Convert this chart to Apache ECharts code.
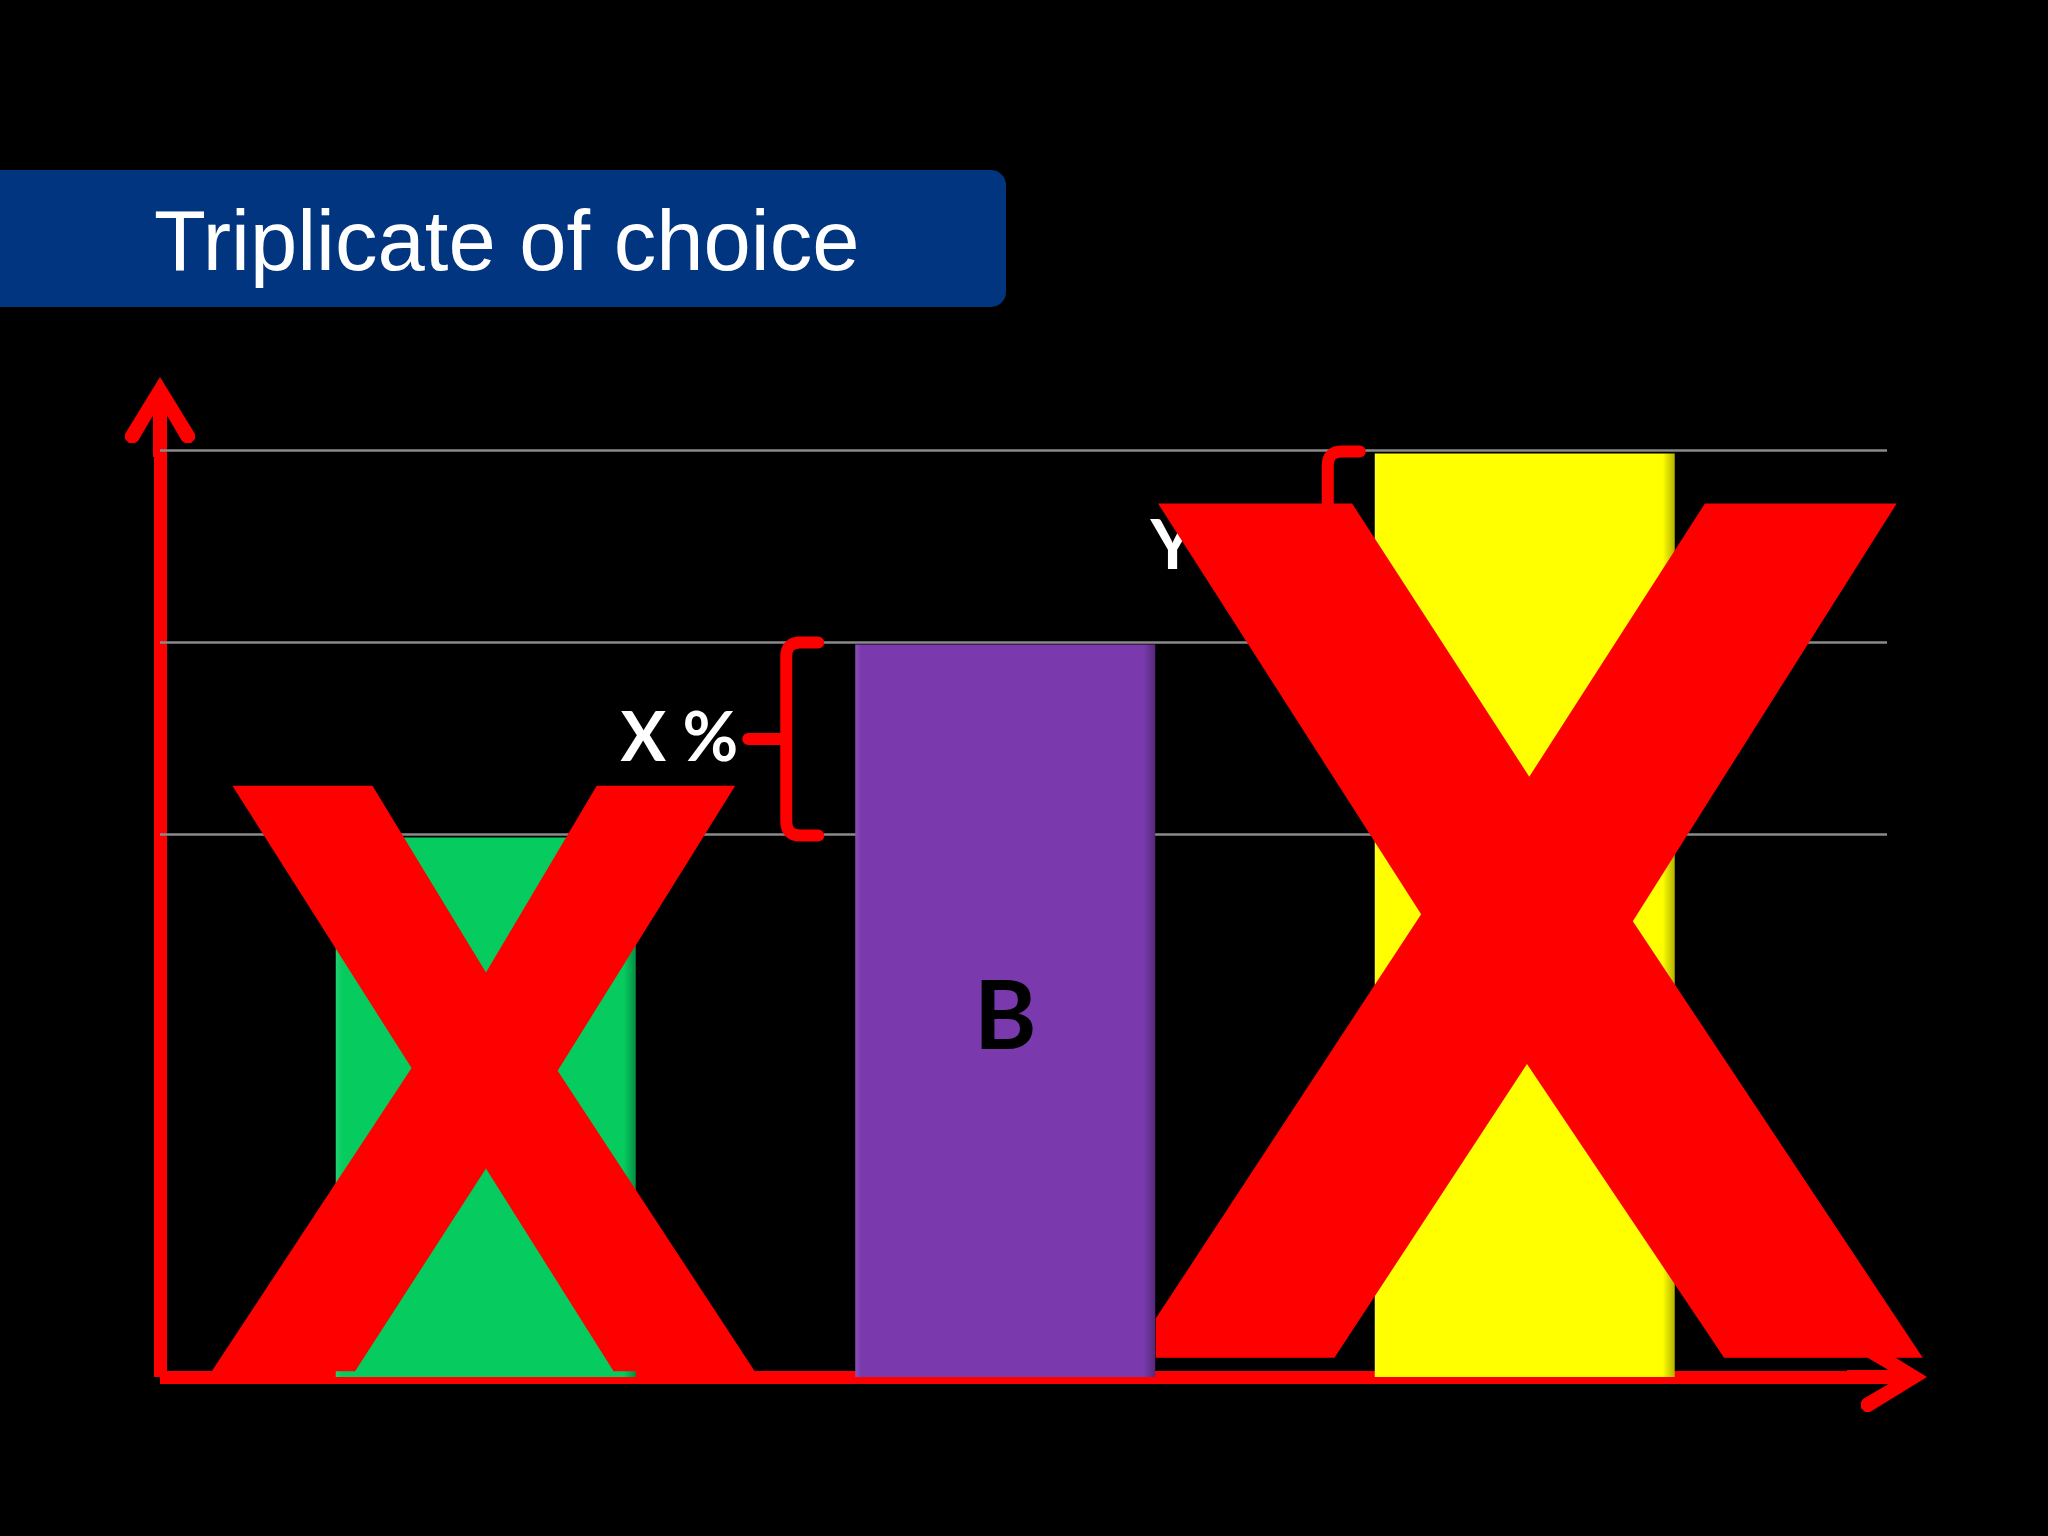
<!DOCTYPE html>
<html>
<head>
<meta charset="utf-8">
<script src="https://cdn.jsdelivr.net/npm/echarts@6/dist/echarts.min.js"></script>
<style>
html,body{margin:0;padding:0;background:#000;}
#chart{width:2048px;height:1536px;}
</style>
</head>
<body>
<div id="chart"></div>
<script>
// ---- data ----
const titleText = 'Triplicate of choice';
const categories = ['A', 'B', 'C'];
const values = [56.2, 76.3, 96.2];
const gridLevels = [56.5, 76.5, 96.5];
const barColors = ['#06CC5F', '#7A3AAE', '#FFFF00'];
const gapLabels = ['X %', 'Y %'];
const crossedOut = [0, 2];

// ---- helpers / styles ----
function shade(hex, f) {
  const n = parseInt(hex.slice(1), 16);
  let r = (n >> 16) & 255, g = (n >> 8) & 255, b = n & 255;
  const m = v => Math.max(0, Math.min(255, Math.round(f >= 0 ? v + (255 - v) * f : v * (1 + f))));
  return 'rgb(' + m(r) + ',' + m(g) + ',' + m(b) + ')';
}
const arrowPath = 'path://M35,0 L70,57 L70,62 L66,66 L60,66 L57,64 L42,38.5 L42,80 L28,80 L28,38.5 L13,64 L10,66 L4,66 L0,62 L0,57 Z';

// shape of the big red crosses (unit box), and their box relative to the bar
const crossStyles = [
  {dx: [-274, 269], v: [0.6, 61.6], pts: [
    [0.038, 0], [0.296, 0], [0.505, 0.319], [0.709, 0], [0.964, 0], [0.637, 0.487],
    [1, 1], [0.740, 1], [0.505, 0.654], [0.264, 1], [0, 1], [0.368, 0.482]]},
  {dx: [-369, 398], v: [2.0, 91.0], pts: [
    [0.003, 0], [0.256, 0], [0.487, 0.32], [0.716, 0], [0.966, 0], [0.622, 0.489],
    [1, 1], [0.741, 1], [0.484, 0.656], [0.233, 1], [0, 1], [0, 0.954], [0.346, 0.481]]}
];

const chart = echarts.init(document.getElementById('chart'), null, {renderer: 'canvas'});

const barData = values.map((v, i) => ({
  value: v,
  itemStyle: {
    color: {
      type: 'linear', x: 0, y: 0, x2: 1, y2: 0,
      colorStops: [
        {offset: 0, color: shade(barColors[i], 0.12)},
        {offset: 0.02, color: barColors[i]},
        {offset: 0.96, color: barColors[i]},
        {offset: 1, color: shade(barColors[i], -0.3)}
      ]
    }
  }
}));

const braceData = gapLabels.map((t, i) => [i + 1, values[i], values[i + 1]]);
const braceGap = [69, 47];
const textGap = [10, 23];

const option = {
  backgroundColor: '#000000',
  animation: false,
  title: {
    text: titleText,
    left: 154,
    top: 178,
    padding: 0,
    z: 10,
    textStyle: {
      color: '#ffffff',
      fontFamily: 'Liberation Sans',
      fontWeight: 'normal',
      fontSize: 85,
      lineHeight: 137
    }
  },
  graphic: [{
    type: 'rect',
    left: 0,
    top: 170,
    z: 0,
    shape: {width: 1006, height: 137, r: [0, 15, 15, 0]},
    style: {fill: '#013580'}
  }],
  grid: [
    {left: 160, right: 161, top: 417, bottom: 159, containLabel: false},
    {left: 226, right: 263.5, top: 417, bottom: 159, containLabel: false}
  ],
  xAxis: [
    {
      gridIndex: 0, type: 'value', min: 0, max: 1,
      axisLine: {show: true, onZero: false, symbol: ['none', arrowPath], symbolSize: [70, 80],
        lineStyle: {color: '#ff0000', width: 13, cap: 'butt'}},
      axisTick: {show: false}, axisLabel: {show: false}, splitLine: {show: false}
    },
    {
      gridIndex: 1, type: 'category', data: categories,
      axisLine: {show: false}, axisTick: {show: false}, axisLabel: {show: false}, splitLine: {show: false}
    }
  ],
  yAxis: [
    {
      gridIndex: 0, type: 'value', min: 0, max: 100,
      axisLine: {show: true, onZero: false, symbol: ['none', arrowPath], symbolSize: [70, 80],
        lineStyle: {color: '#ff0000', width: 13, cap: 'butt'}},
      axisTick: {show: false}, axisLabel: {show: false}, splitLine: {show: false}
    },
    {
      gridIndex: 1, type: 'value', min: 0, max: 100,
      axisLine: {show: false}, axisTick: {show: false}, axisLabel: {show: false}, splitLine: {show: false}
    }
  ],
  series: [
    {
      name: 'gridlines',
      type: 'custom',
      xAxisIndex: 0, yAxisIndex: 0,
      z: 1,
      silent: true,
      data: gridLevels.map(v => [0, v]),
      renderItem: function (params, api) {
        const v = api.value(1);
        const p1 = api.coord([0, v]);
        const p2 = api.coord([1, v]);
        return {
          type: 'line',
          shape: {x1: p1[0], y1: p1[1], x2: p2[0], y2: p2[1]},
          style: {stroke: '#8a8a8a', lineWidth: 2.5}
        };
      }
    },
    {
      name: 'bars',
      type: 'bar',
      xAxisIndex: 1, yAxisIndex: 1,
      z: 2,
      barWidth: 300,
      data: barData,
      label: {
        show: true,
        position: 'inside',
        offset: [0, 8],
        formatter: '{b}',
        color: '#000000',
        fontFamily: 'Lato',
        fontWeight: 'bold',
        fontSize: 95
      }
    },
    {
      name: 'braces',
      type: 'custom',
      xAxisIndex: 1, yAxisIndex: 1,
      z: 3,
      silent: true,
      data: braceData,
      renderItem: function (params, api) {
        const ci = api.value(0);
        const lo = api.value(1);
        const hi = api.value(2);
        const pHi = api.coord([ci, hi]);
        const pLo = api.coord([ci, lo]);
        const barLeft = pHi[0] - 150;
        const xv = barLeft - braceGap[params.dataIndex];
        const xh = xv + 32;
        const tip = xv - 38;
        const y0 = pHi[1] - 2;
        const y1 = pLo[1] - 2;
        const ym = (y0 + y1) / 2;
        const r = 14;
        const d = 'M' + xh + ',' + y0 + ' L' + (xv + r) + ',' + y0 +
          ' Q' + xv + ',' + y0 + ' ' + xv + ',' + (y0 + r) +
          ' L' + xv + ',' + (y1 - r) +
          ' Q' + xv + ',' + y1 + ' ' + (xv + r) + ',' + y1 +
          ' L' + xh + ',' + y1 +
          ' M' + tip + ',' + ym + ' L' + xv + ',' + ym;
        return {
          type: 'group',
          children: [
            {
              type: 'path',
              shape: {pathData: d},
              style: {stroke: '#ff0000', lineWidth: 12, fill: null, lineCap: 'round', lineJoin: 'round'}
            },
            {
              type: 'text',
              style: {
                text: gapLabels[params.dataIndex],
                x: tip - textGap[params.dataIndex],
                y: ym,
                align: 'right',
                verticalAlign: 'middle',
                textAlign: 'right',
                textVerticalAlign: 'middle',
                font: 'bold 68px Lato',
                fill: '#ffffff'
              }
            }
          ]
        };
      }
    },
    {
      name: 'crossed',
      type: 'custom',
      xAxisIndex: 1, yAxisIndex: 1,
      z: 6,
      silent: true,
      data: crossedOut.map(ci => [ci, values[ci]]),
      renderItem: function (params, api) {
        const cfg = crossStyles[params.dataIndex];
        const ci = api.value(0);
        const c = api.coord([ci, 0]);
        const top = api.coord([ci, cfg.v[1]])[1];
        const bot = api.coord([ci, cfg.v[0]])[1];
        const x0 = c[0] + cfg.dx[0];
        const x1 = c[0] + cfg.dx[1];
        const points = cfg.pts.map(p => [x0 + p[0] * (x1 - x0), top + p[1] * (bot - top)]);
        return {
          type: 'polygon',
          shape: {points: points},
          style: {fill: '#ff0000'}
        };
      }
    }
  ]
};
chart.setOption(option);
</script>
</body>
</html>
